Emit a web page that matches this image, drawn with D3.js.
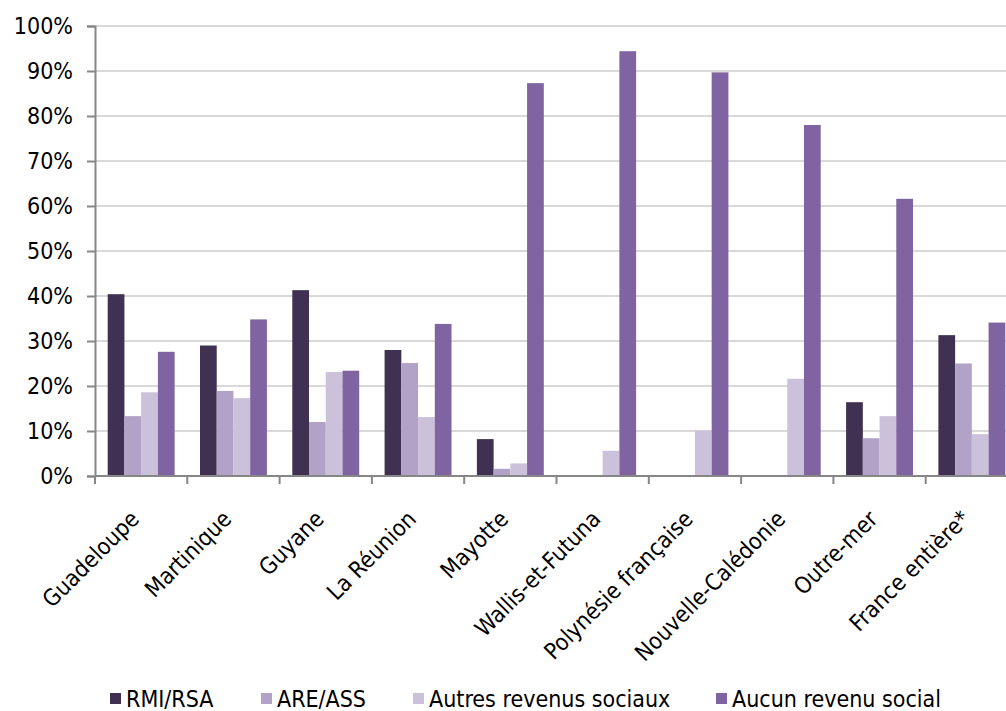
<!DOCTYPE html>
<html>
<head>
<meta charset="utf-8">
<script src="https://cdn.jsdelivr.net/npm/d3@7"></script>
<style>
	body { margin: 0; background: #fff; }
	svg { display: block; font-family: "DejaVu Sans Condensed", "DejaVu Sans", sans-serif; }
</style>
</head>
<body>
<svg id="chart" width="1006" height="711"></svg>
<script>
// categories and series
var territories = ['Guadeloupe', 'Martinique', 'Guyane', 'La Réunion', 'Mayotte', 'Wallis-et-Futuna',
	'Polynésie française', 'Nouvelle-Calédonie', 'Outre-mer', 'France entière*'];
var seriesNames = ['RMI/RSA', 'ARE/ASS', 'Autres revenus sociaux', 'Aucun revenu social'];
var rmiRsa   = [40.4, 29.0, 41.3, 28.0, 8.2, 0, 0, 0, 16.4, 31.3];
var areAss   = [13.3, 18.9, 12.0, 25.1, 1.6, 0, 0, 0, 8.4, 25.0];
var autres   = [18.6, 17.3, 23.1, 13.1, 2.8, 5.6, 10.1, 21.6, 13.3, 9.3];
var aucun    = [27.6, 34.8, 23.4, 33.8, 87.3, 94.4, 89.7, 78.0, 61.6, 34.1];
var yTicks = [0, 10, 20, 30, 40, 50, 60, 70, 80, 90, 100];

var colors = ['#403152', '#b3a2c7', '#ccc1da', '#8064a2'];
var series = [rmiRsa, areAss, autres, aucun];

var svg = d3.select('#chart');

// plot runs past the right edge, like the reference
var x = d3.scaleBand()
	.domain(territories)
	.range([95, 1018])
	.paddingInner(0.275)
	.paddingOuter(0.1375);
var xs = d3.scaleBand()
	.domain(d3.range(series.length))
	.range([0, x.bandwidth()]);
var y = d3.scaleLinear().domain([0, 100]).range([476, 26]);

// gridlines
svg.append('g')
	.selectAll('line')
	.data(yTicks.slice(1))
	.join('line')
	.attr('x1', 95).attr('x2', 1006)
	.attr('y1', d => y(d)).attr('y2', d => y(d))
	.attr('stroke', '#d9d9d9')
	.attr('stroke-width', 2);

// bars
var groups = svg.append('g')
	.selectAll('g')
	.data(territories)
	.join('g')
	.attr('transform', d => 'translate(' + x(d) + ',0)');

groups.selectAll('rect')
	.data((d, i) => series.map((s, k) => ({k: k, v: s[i]})))
	.join('rect')
	.attr('x', d => xs(d.k))
	.attr('width', xs.bandwidth())
	.attr('y', d => y(d.v))
	.attr('height', d => y(0) - y(d.v))
	.attr('fill', d => colors[d.k]);

// y axis
var yAxis = d3.axisLeft(y)
	.tickValues(yTicks)
	.tickSize(8)
	.tickPadding(14)
	.tickFormat(d => d + '%');
var gy = svg.append('g')
	.attr('transform', 'translate(95,0)')
	.call(yAxis);
gy.select('.domain').attr('stroke', '#868686').attr('stroke-width', 2);
gy.selectAll('.tick line').attr('stroke', '#868686').attr('stroke-width', 2);
gy.selectAll('.tick text')
	.attr('font-size', 23)
	.attr('fill', '#000')
	.attr('font-family', '"DejaVu Sans Condensed", "DejaVu Sans", sans-serif');

// x axis line and ticks at band boundaries
svg.append('line')
	.attr('x1', 95).attr('x2', 1006)
	.attr('y1', 476).attr('y2', 476)
	.attr('stroke', '#868686').attr('stroke-width', 2);
var step = x.step();
svg.append('g')
	.selectAll('line')
	.data(d3.range(territories.length))
	.join('line')
	.attr('x1', i => x(territories[i]) - x.paddingOuter() * step)
	.attr('x2', i => x(territories[i]) - x.paddingOuter() * step)
	.attr('y1', 476).attr('y2', 484)
	.attr('stroke', '#868686').attr('stroke-width', 2);

// rotated category labels
svg.append('g')
	.selectAll('text')
	.data(territories)
	.join('text')
	.attr('transform', d => 'translate(' + (x(d) + x.bandwidth() / 2 - 12) + ',509) rotate(-45)')
	.attr('text-anchor', 'end')
	.attr('dy', '0.7em')
	.attr('font-size', 23)
	.attr('fill', '#000')
	.text(d => d);

// legend
var legendX = [110, 261, 413, 716];
var legend = svg.append('g')
	.selectAll('g')
	.data(seriesNames)
	.join('g')
	.attr('transform', (d, i) => 'translate(' + legendX[i] + ',693)');
legend.append('rect')
	.attr('width', 11).attr('height', 11)
	.attr('fill', (d, i) => colors[i]);
legend.append('text')
	.attr('x', 16)
	.attr('y', 14)
	.attr('font-size', 23)
	.attr('fill', '#000')
	.text(d => d);
</script>
</body>
</html>
